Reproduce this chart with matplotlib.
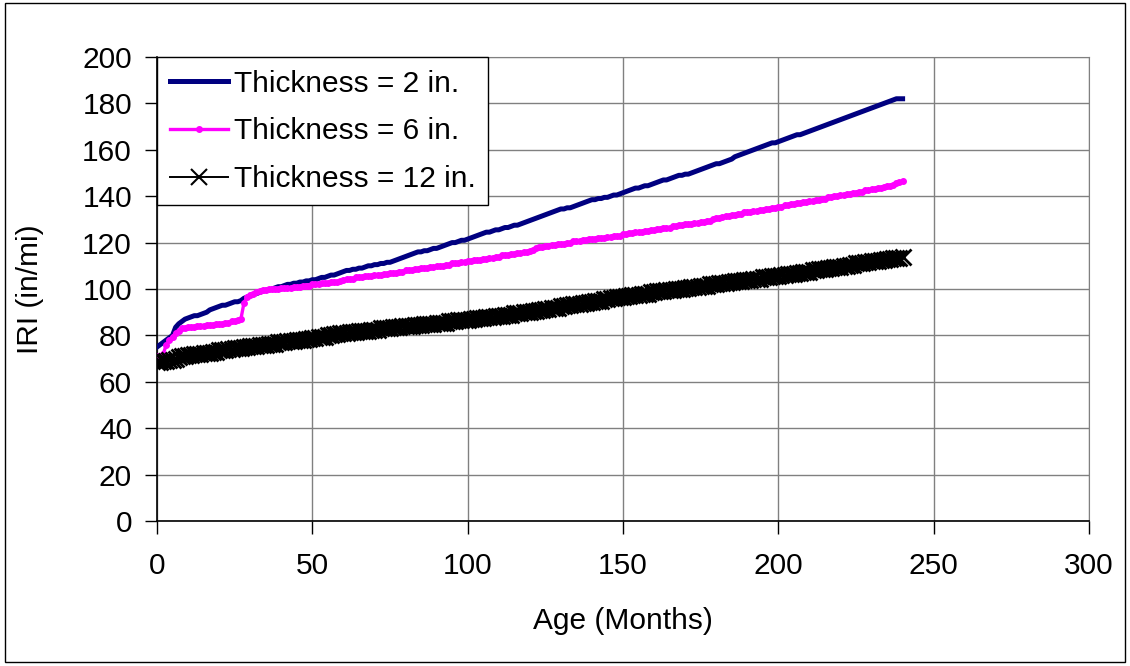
import matplotlib
matplotlib.use("Agg")
import matplotlib.pyplot as plt
from matplotlib.patches import Rectangle

plt.rcParams['font.family'] = ['Liberation Sans', 'DejaVu Sans']

months = list(range(241))

iri_2in = [
    75.0, 76.0, 77.0, 78.0, 79.0, 80.0, 83.5, 85.0, 86.0, 87.0,
    87.5, 88.0, 88.5, 88.5, 89.0, 89.5, 90.0, 91.0, 91.5, 92.0,
    92.5, 93.0, 93.0, 93.5, 94.0, 94.5, 94.5, 95.0, 96.0, 96.5,
    97.0, 97.5, 98.0, 98.5, 99.0, 99.5, 99.5, 100.0, 100.5, 101.0,
    101.0, 101.5, 102.0, 102.0, 102.5, 102.5, 103.0, 103.0, 103.5, 103.5,
    104.0, 104.0, 104.5, 105.0, 105.0, 105.5, 106.0, 106.0, 106.5, 107.0,
    107.5, 108.0, 108.0, 108.5, 108.5, 109.0, 109.0, 109.5, 110.0, 110.0,
    110.5, 110.5, 111.0, 111.0, 111.5, 111.5, 112.0, 112.5, 113.0, 113.5,
    114.0, 114.5, 115.0, 115.5, 116.0, 116.0, 116.5, 116.5, 117.0, 117.5,
    117.5, 118.0, 118.5, 119.0, 119.5, 120.0, 120.0, 120.5, 121.0, 121.0,
    121.5, 122.0, 122.5, 123.0, 123.5, 124.0, 124.5, 124.5, 125.0, 125.5,
    125.5, 126.0, 126.5, 126.5, 127.0, 127.5, 127.5, 128.0, 128.5, 129.0,
    129.5, 130.0, 130.5, 131.0, 131.5, 132.0, 132.5, 133.0, 133.5, 134.0,
    134.5, 134.5, 135.0, 135.0, 135.5, 136.0, 136.5, 137.0, 137.5, 138.0,
    138.5, 138.5, 139.0, 139.0, 139.5, 139.5, 140.0, 140.5, 140.5, 141.0,
    141.5, 142.0, 142.5, 143.0, 143.5, 143.5, 144.0, 144.5, 144.5, 145.0,
    145.5, 146.0, 146.5, 147.0, 147.0, 147.5, 148.0, 148.5, 149.0, 149.0,
    149.5, 149.5, 150.0, 150.5, 151.0, 151.5, 152.0, 152.5, 153.0, 153.5,
    154.0, 154.0, 154.5, 155.0, 155.5, 156.0, 157.0, 157.5, 158.0, 158.5,
    159.0, 159.5, 160.0, 160.5, 161.0, 161.5, 162.0, 162.5, 163.0, 163.0,
    163.5, 164.0, 164.5, 165.0, 165.5, 166.0, 166.5, 166.5, 167.0, 167.5,
    168.0, 168.5, 169.0, 169.5, 170.0, 170.5, 171.0, 171.5, 172.0, 172.5,
    173.0, 173.5, 174.0, 174.5, 175.0, 175.5, 176.0, 176.5, 177.0, 177.5,
    178.0, 178.5, 179.0, 179.5, 180.0, 180.5, 181.0, 181.5, 182.0, 182.0,
    182.0,
]

iri_6in = [
    71.0, 71.0, 72.0, 76.0, 78.0, 79.5, 81.0, 82.0, 83.0, 83.0,
    83.5, 83.5, 83.5, 84.0, 84.0, 84.0, 84.5, 84.5, 84.5, 85.0,
    85.0, 85.0, 85.5, 85.5, 86.0, 86.0, 86.5, 87.0, 94.0, 96.5,
    97.5, 98.0, 98.5, 99.0, 99.5, 99.5, 100.0, 100.0, 100.0, 100.0,
    100.5, 100.5, 100.5, 100.5, 101.0, 101.0, 101.0, 101.5, 101.5, 101.5,
    102.0, 102.0, 102.0, 102.5, 102.5, 102.5, 103.0, 103.0, 103.0, 103.5,
    104.0, 104.5, 104.5, 104.5, 105.0, 105.0, 105.0, 105.5, 105.5, 105.5,
    106.0, 106.0, 106.0, 106.5, 106.5, 107.0, 107.0, 107.0, 107.5, 107.5,
    108.0, 108.0, 108.0, 108.5, 108.5, 109.0, 109.0, 109.0, 109.5, 109.5,
    110.0, 110.0, 110.0, 110.5, 110.5, 111.0, 111.0, 111.0, 111.5, 111.5,
    112.0, 112.0, 112.5, 112.5, 112.5, 113.0, 113.0, 113.5, 113.5, 114.0,
    114.0, 114.5, 114.5, 114.5, 115.0, 115.0, 115.5, 115.5, 116.0, 116.0,
    116.5, 117.0, 117.5, 118.0, 118.0, 118.5, 118.5, 119.0, 119.0, 119.5,
    119.5, 119.5, 120.0, 120.0, 120.5, 120.5, 120.5, 121.0, 121.0, 121.5,
    121.5, 121.5, 122.0, 122.0, 122.0, 122.5, 122.5, 123.0, 123.0, 123.0,
    123.5, 123.5, 124.0, 124.0, 124.5, 124.5, 124.5, 125.0, 125.0, 125.5,
    125.5, 126.0, 126.0, 126.5, 126.5, 126.5, 127.0, 127.0, 127.5, 127.5,
    128.0, 128.0, 128.0, 128.5, 128.5, 129.0, 129.0, 129.5, 129.5, 130.0,
    130.5, 130.5, 131.0, 131.5, 131.5, 132.0, 132.0, 132.5, 132.5, 133.0,
    133.0, 133.0, 133.5, 133.5, 134.0, 134.0, 134.5, 134.5, 135.0, 135.0,
    135.5, 135.5, 136.0, 136.0, 136.5, 136.5, 137.0, 137.0, 137.5, 137.5,
    138.0, 138.0, 138.5, 138.5, 139.0, 139.0, 139.5, 139.5, 140.0, 140.0,
    140.5, 140.5, 141.0, 141.0, 141.5, 141.5, 142.0, 142.0, 142.5, 142.5,
    143.0, 143.0, 143.5, 143.5, 144.0, 144.5, 144.5, 145.0, 145.5, 146.0,
    146.5,
]

iri_12in = [
    68.5, 68.5, 69.0, 69.0, 69.5, 69.5, 70.0, 70.5, 71.0, 71.0,
    71.5, 71.5, 72.0, 72.0, 72.0, 72.5, 72.5, 72.5, 73.0, 73.0,
    73.5, 73.5, 73.5, 74.0, 74.0, 74.5, 74.5, 74.5, 75.0, 75.0,
    75.5, 75.5, 75.5, 76.0, 76.0, 76.0, 76.5, 76.5, 76.5, 77.0,
    77.0, 77.0, 77.5, 77.5, 77.5, 78.0, 78.0, 78.0, 78.5, 78.5,
    79.0, 79.0, 79.5, 79.5, 79.5, 80.0, 80.0, 80.5, 80.5, 81.0,
    81.0, 81.0, 81.5, 81.5, 81.5, 82.0, 82.0, 82.0, 82.0, 82.5,
    82.5, 82.5, 83.0, 83.0, 83.0, 83.0, 83.5, 83.5, 83.5, 84.0,
    84.0, 84.0, 84.0, 84.5, 84.5, 84.5, 85.0, 85.0, 85.0, 85.0,
    85.5, 85.5, 85.5, 85.5, 86.0, 86.0, 86.0, 86.5, 86.5, 86.5,
    86.5, 87.0, 87.0, 87.5, 87.5, 87.5, 88.0, 88.0, 88.0, 88.5,
    88.5, 88.5, 89.0, 89.0, 89.0, 89.5, 89.5, 89.5, 90.0, 90.0,
    90.0, 90.5, 90.5, 91.0, 91.0, 91.5, 91.5, 92.0, 92.0, 92.0,
    92.5, 92.5, 93.0, 93.0, 93.5, 93.5, 93.5, 94.0, 94.0, 94.5,
    94.5, 95.0, 95.0, 95.0, 95.5, 95.5, 96.0, 96.0, 96.5, 96.5,
    96.5, 97.0, 97.0, 97.5, 97.5, 97.5, 98.0, 98.0, 98.0, 98.5,
    98.5, 99.0, 99.0, 99.0, 99.5, 99.5, 99.5, 100.0, 100.0, 100.0,
    100.5, 100.5, 101.0, 101.0, 101.0, 101.5, 101.5, 101.5, 102.0, 102.0,
    102.0, 102.5, 102.5, 102.5, 103.0, 103.0, 103.5, 103.5, 103.5, 104.0,
    104.0, 104.0, 104.5, 104.5, 104.5, 105.0, 105.0, 105.0, 105.5, 105.5,
    105.5, 106.0, 106.0, 106.5, 106.5, 106.5, 107.0, 107.0, 107.5, 107.5,
    107.5, 108.0, 108.0, 108.5, 108.5, 108.5, 109.0, 109.0, 109.5, 109.5,
    109.5, 110.0, 110.0, 110.5, 110.5, 111.0, 111.0, 111.0, 111.5, 111.5,
    112.0, 112.0, 112.0, 112.5, 112.5, 113.0, 113.0, 113.5, 113.5, 113.5,
    114.0,
]

labels = ["Thickness = 2 in.", "Thickness = 6 in.", "Thickness = 12 in."]
x_ticks = [0, 50, 100, 150, 200, 250, 300]
y_ticks = [0, 20, 40, 60, 80, 100, 120, 140, 160, 180, 200]

FS = 21.5

fig = plt.figure(figsize=(11.3, 6.66), dpi=100)
ax = fig.add_axes([157/1130, 1 - 521/666, 932/1130, 464/666])

ax.plot(months, iri_2in, color='#000080', lw=3.6, label=labels[0], zorder=3)
ax.plot(months, iri_6in, color='#FF00FF', lw=2.4, marker='o', ms=4,
        mec='#FF00FF', mfc='#FF00FF', label=labels[1], zorder=3)
ax.plot(months, iri_12in, color='black', lw=1.4, marker='x', ms=11, mew=2.0,
        label=labels[2], zorder=3)

ax.set_xlim(0, 300)
ax.set_ylim(0, 200)
ax.set_xticks(x_ticks)
ax.set_yticks(y_ticks)
ax.grid(True, color='#808080', lw=1)
ax.set_axisbelow(True)
for s in ['top', 'right']:
    ax.spines[s].set_color('#808080')
for s in ['left', 'bottom']:
    ax.spines[s].set_color('black')
    ax.spines[s].set_linewidth(1.2)
ax.tick_params(axis='both', direction='out', length=9, width=1, colors='black',
               labelsize=FS)
ax.tick_params(axis='x', pad=13)
ax.tick_params(axis='y', pad=9)

ax.set_xlabel("Age (Months)", fontsize=FS)
ax.set_ylabel("IRI (in/mi)", fontsize=FS)
ax.xaxis.set_label_coords(0.5, -0.185)
ax.yaxis.set_label_coords(-0.121, 0.5)

leg = ax.legend(loc='upper left', bbox_to_anchor=(0, 1), borderaxespad=0,
                fontsize=FS, fancybox=False, edgecolor='black', framealpha=1,
                numpoints=1, handlelength=1.95, handletextpad=0.2,
                labelspacing=0.66, borderpad=0.42)
leg.get_frame().set_linewidth(1)
for h in leg.legend_handles:
    if h.get_marker() == 'x':
        h.set_markersize(12)
        h.set_markeredgewidth(1.5)

fig.patches.append(Rectangle((5/1130, 4/666), 1120/1130, 659/666,
                             transform=fig.transFigure, fill=False,
                             edgecolor='black', lw=1))

fig.savefig("out.png", dpi=100)
